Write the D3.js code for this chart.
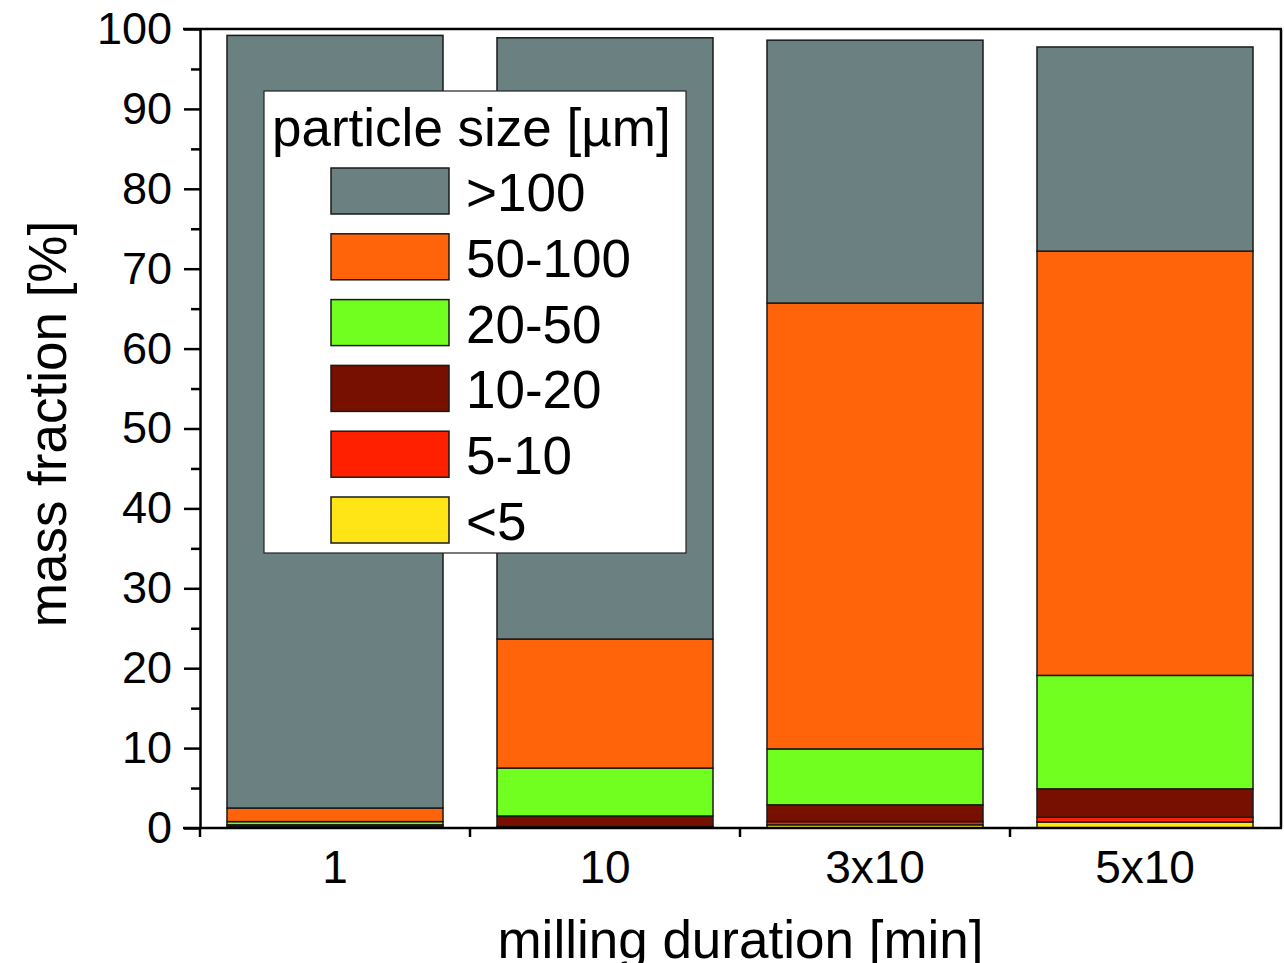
<!DOCTYPE html>
<html>
<head>
<meta charset="utf-8">
<script src="https://cdn.jsdelivr.net/npm/d3@7"></script>
<style>
  html, body { margin: 0; padding: 0; background: #fff; }
  svg text { font-family: "Liberation Sans", Arial, sans-serif; fill: #000; }
</style>
</head>
<body>
<div id="chart"></div>
<script>
// Data (mass fraction in %)
var durations = ["1", "10", "3x10", "5x10"];
var sizeClasses = ["<5", "5-10", "10-20", "20-50", "50-100", ">100"];
var lt5 = [0.1, 0.1, 0.4, 0.75];
var s5to10 = [0.1, 0.1, 0.4, 0.6];
var s10to20 = [0.2, 1.3, 2.1, 3.55];
var s20to50 = [0.4, 6.0, 7.0, 14.2];
var s50to100 = [1.7, 16.15, 55.8, 53.1];
var gt100 = [96.7, 75.25, 32.9, 25.55];
var yTicks = [0, 10, 20, 30, 40, 50, 60, 70, 80, 90, 100];

var classColors = ["#ffe515", "#ff2000", "#781000", "#70ff1e", "#ff640a", "#6b8080"];

// build rows for d3.stack
var seriesValues = [lt5, s5to10, s10to20, s20to50, s50to100, gt100];
var rows = durations.map(function(d, i) {
  var row = { duration: d };
  sizeClasses.forEach(function(k, j) { row[k] = seriesValues[j][i]; });
  return row;
});

// plot frame (note: "top" is a reserved window property, so use plotTop)
var width = 1284, height = 963;
var plotLeft = 200, plotRight = 1281, plotTop = 29, plotBottom = 828;

var svg = d3.select("#chart").append("svg")
  .attr("width", width)
  .attr("height", height);

var x = d3.scaleBand()
  .domain(durations)
  .range([plotLeft, plotRight - 1])
  .paddingInner(0.2)
  .paddingOuter(0.1);

var y = d3.scaleLinear().domain([0, 100]).range([plotBottom, plotTop]);

var stacked = d3.stack().keys(sizeClasses)(rows);

var color = d3.scaleOrdinal().domain(sizeClasses).range(classColors);

// bars
svg.append("g").selectAll("g")
  .data(stacked)
  .enter().append("g")
  .attr("fill", function(d) { return color(d.key); })
  .selectAll("rect")
  .data(function(d) { return d; })
  .enter().append("rect")
  .attr("x", function(d) { return x(d.data.duration); })
  .attr("width", x.bandwidth())
  .attr("y", function(d) { return y(d[1]); })
  .attr("height", function(d) { return y(d[0]) - y(d[1]); })
  .attr("stroke", "#1a1a1a")
  .attr("stroke-width", 1.5);

// left axis, major ticks with labels
var yAxis = d3.axisLeft(y)
  .tickValues(yTicks)
  .tickSize(16)
  .tickPadding(12)
  .tickSizeOuter(0);
var gy = svg.append("g")
  .attr("transform", "translate(" + plotLeft + ",0)")
  .call(yAxis);
gy.selectAll("text").style("font-size", "45px");
gy.selectAll("line").attr("stroke-width", 2.5);
gy.select(".domain").attr("stroke-width", 2.5);

// minor ticks
var yMinor = d3.axisLeft(y)
  .tickValues(d3.range(5, 100, 10))
  .tickSize(9)
  .tickFormat("")
  .tickSizeOuter(0);
var gym = svg.append("g")
  .attr("transform", "translate(" + plotLeft + ",0)")
  .call(yMinor);
gym.select(".domain").remove();
gym.selectAll("line").attr("stroke-width", 2.5);

// bottom axis: category labels, ticks at category boundaries
var xAxis = d3.axisBottom(x).tickSize(0).tickPadding(22).tickSizeOuter(0);
var gx = svg.append("g")
  .attr("transform", "translate(0," + plotBottom + ")")
  .call(xAxis);
gx.select(".domain").remove();
gx.selectAll("text").style("font-size", "46px");

var boundaries = durations.map(function(d) { return x(d) - x.step() * x.paddingInner() / 2; });
boundaries[0] = plotLeft;
svg.append("g").selectAll("line")
  .data(boundaries)
  .enter().append("line")
  .attr("x1", function(d) { return d; })
  .attr("x2", function(d) { return d; })
  .attr("y1", plotBottom)
  .attr("y2", plotBottom + 9)
  .attr("stroke", "#000")
  .attr("stroke-width", 2.5);

// frame lines
svg.append("line")
  .attr("x1", plotLeft - 17).attr("x2", plotRight + 1)
  .attr("y1", plotBottom).attr("y2", plotBottom)
  .attr("stroke", "#000").attr("stroke-width", 2.5);
svg.append("line")
  .attr("x1", plotLeft - 17).attr("x2", plotRight + 1)
  .attr("y1", plotTop).attr("y2", plotTop)
  .attr("stroke", "#000").attr("stroke-width", 2.5);
svg.append("line")
  .attr("x1", plotRight).attr("x2", plotRight)
  .attr("y1", plotTop).attr("y2", plotBottom)
  .attr("stroke", "#000").attr("stroke-width", 2.5);

// axis titles
svg.append("text")
  .attr("x", (plotLeft + plotRight) / 2)
  .attr("y", 958)
  .attr("text-anchor", "middle")
  .style("font-size", "53px")
  .text("milling duration [min]");

svg.append("text")
  .attr("transform", "translate(66," + 424 + ")rotate(-90)")
  .attr("text-anchor", "middle")
  .style("font-size", "53px")
  .text("mass fraction [%]");

// legend
var legend = svg.append("g");
legend.append("rect")
  .attr("x", 264).attr("y", 91)
  .attr("width", 422).attr("height", 462)
  .attr("fill", "#fff")
  .attr("stroke", "#222")
  .attr("stroke-width", 1.2);
legend.append("text")
  .attr("x", 272).attr("y", 146)
  .style("font-size", "53px")
  .text("particle size [\u00b5m]");

var legendItems = sizeClasses.slice().reverse();
var item = legend.selectAll("g.item")
  .data(legendItems)
  .enter().append("g")
  .attr("class", "item")
  .attr("transform", function(d, i) { return "translate(0," + (168 + i * 65.8) + ")"; });
item.append("rect")
  .attr("x", 331).attr("y", 0)
  .attr("width", 118).attr("height", 46)
  .attr("fill", function(d) { return color(d); })
  .attr("stroke", "#1a1a1a")
  .attr("stroke-width", 1.5);
item.append("text")
  .attr("x", 466).attr("y", 43)
  .style("font-size", "53px")
  .text(function(d) { return d; });
</script>
</body>
</html>
